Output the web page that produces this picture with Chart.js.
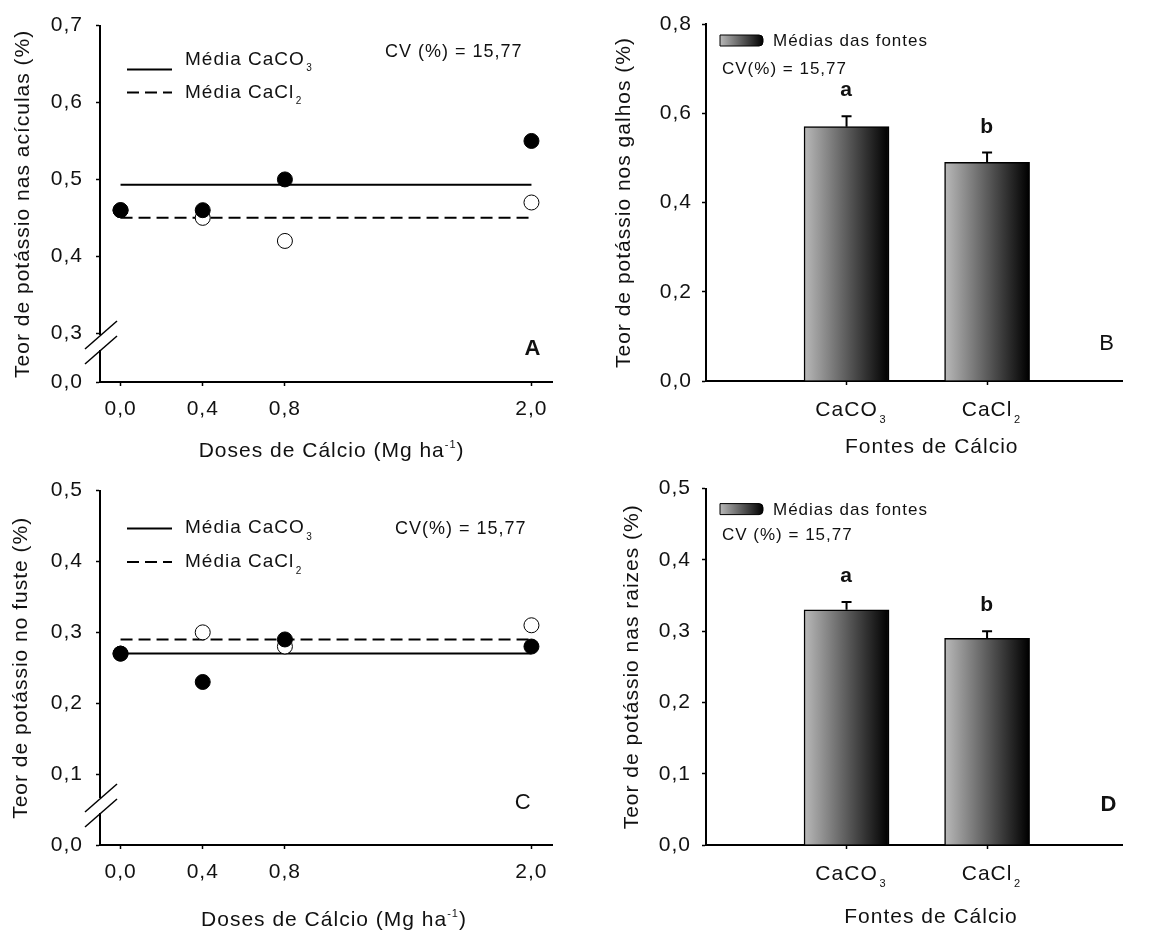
<!DOCTYPE html>
<html lang="pt">
<head>
<meta charset="utf-8">
<title>Teor de potássio</title>
<script src="https://cdn.jsdelivr.net/npm/chart.js@4.4.0/dist/chart.umd.min.js"></script>
<style>
  html, body { margin: 0; padding: 0; background: #fff; }
  #fig { position: relative; width: 1164px; height: 931px; overflow: hidden; }
  #fig canvas { position: absolute; }
</style>
</head>
<body>
<div id="fig">
  <canvas id="chartA" width="582" height="465" style="left:0;top:0"></canvas>
  <canvas id="chartB" width="582" height="465" style="left:582px;top:0"></canvas>
  <canvas id="chartC" width="582" height="466" style="left:0;top:465px"></canvas>
  <canvas id="chartD" width="582" height="466" style="left:582px;top:465px"></canvas>
</div>
<script>
// ---- dados ----
const doses = [0, 0.4, 0.8, 2.0];              // Mg ha-1
const cvTexto = '15,77';

// A: aciculas
const aciculasCaCO3 = [0.46, 0.46, 0.50, 0.55];
const aciculasCaCl2 = [0.46, 0.45, 0.42, 0.47];
const aciculasMediaCaCO3 = 0.493;
const aciculasMediaCaCl2 = 0.45;
const aciculasTicks = [0.3, 0.4, 0.5, 0.6, 0.7];

// C: fuste
const fusteCaCO3 = [0.27, 0.23, 0.29, 0.28];
const fusteCaCl2 = [0.27, 0.30, 0.28, 0.31];
const fusteMediaCaCO3 = 0.27;
const fusteMediaCaCl2 = 0.29;
const fusteTicks = [0, 0.1, 0.2, 0.3, 0.4, 0.5];

// B / D: medias das fontes
const fontes = [['CaCO', '3'], ['CaCl', '2']];
const fontesPos = [1, 2];
const galhosMedias = [0.57, 0.49];
const galhosErro = [0.023, 0.022];
const galhosLetras = ['a', 'b'];
const galhosTicks = [0, 0.2, 0.4, 0.6, 0.8];
const raizesMedias = [0.33, 0.29];
const raizesErro = [0.011, 0.010];
const raizesLetras = ['a', 'b'];
const raizesTicks = [0, 0.1, 0.2, 0.3, 0.4, 0.5];

// ---- estilo ----
const FONT = '"Liberation Sans", Arial, Helvetica, sans-serif';
const INK = '#111';
Chart.defaults.font.family = FONT;
Chart.defaults.color = INK;
Chart.defaults.animation = false;

const comma = v => Number(v).toFixed(1).replace('.', ',');

// espacamento entre letras, como no grafico original
Chart.register({
  id: 'spacing',
  beforeUpdate(c) { c.ctx.letterSpacing = '1px'; },
  beforeDraw(c) { c.ctx.letterSpacing = '1px'; }
});

// texto com subscrito/sobrescrito: parts = [[texto], [texto, 'sub'|'sup']]
function drawRich(ctx, parts, x, y, size, opt = {}) {
  const weight = opt.bold ? 'bold ' : '';
  const runs = parts.map(([t, kind]) => {
    const s = kind ? Math.round(size * 0.5) : size;
    ctx.font = `${weight}${s}px ${FONT}`;
    const w = ctx.measureText(t).width;
    const dy = kind === 'sub' ? size * 0.34 : kind === 'sup' ? -size * 0.4 : 0;
    const gap = kind === 'sub' ? size * 0.08 : 0;
    return { t, s, w, dy, gap };
  });
  let total = 0;
  runs.forEach(r => { total += r.w + r.gap; });
  let cx = x;
  if (opt.align === 'center') cx = x - total / 2;
  if (opt.align === 'first') cx = x - runs[0].w / 2;
  ctx.save();
  ctx.fillStyle = INK;
  ctx.textAlign = 'left';
  ctx.textBaseline = 'alphabetic';
  runs.forEach(r => {
    cx += r.gap;
    ctx.font = `${weight}${r.s}px ${FONT}`;
    ctx.fillText(r.t, cx, y + r.dy);
    cx += r.w;
  });
  ctx.restore();
}

function yScale({ min, max, ticks, title, titlePad, tickPad, width, label }) {
  return {
    type: 'linear', min, max,
    afterBuildTicks: s => { s.ticks = ticks.map(v => ({ value: v })); },
    afterFit: s => { s.width = width; },
    border: { display: true, color: '#000', width: 2 },
    grid: { display: true, drawOnChartArea: false, drawTicks: true, tickLength: 4, tickColor: '#000', tickWidth: 1.5 },
    ticks: { font: { size: 21 }, color: INK, padding: tickPad, callback: label || comma },
    title: { display: true, text: title, font: { size: 21 }, color: INK, padding: { top: titlePad, bottom: 0 } }
  };
}

function xScale({ min, max, ticks, height, label }) {
  return {
    type: 'linear', min, max, offset: false,
    afterBuildTicks: s => { s.ticks = ticks.map(v => ({ value: v })); },
    afterFit: s => { s.height = height; },
    border: { display: true, color: '#000', width: 2 },
    grid: { display: true, offset: false, drawOnChartArea: false, drawTicks: true, tickLength: 4, tickColor: '#000', tickWidth: 1.5 },
    ticks: { font: { size: 21 }, color: INK, padding: 11, maxRotation: 0, autoSkip: false, callback: label || comma }
  };
}

// quebra do eixo y (duas barras diagonais)
function drawBreak(ctx, area) {
  const x = area.left;
  const y1 = area.bottom - 47, y2 = area.bottom - 32;
  ctx.save();
  ctx.fillStyle = '#fff';
  ctx.fillRect(x - 3, y1, 6, y2 - y1);
  ctx.strokeStyle = '#000';
  ctx.lineWidth = 1.5;
  [y1, y2].forEach(y => {
    ctx.beginPath();
    ctx.moveTo(x - 15, y + 14);
    ctx.lineTo(x + 17, y - 14);
    ctx.stroke();
  });
  ctx.restore();
}

function drawLineLegend(ctx, area, rows) {
  ctx.save();
  ctx.strokeStyle = '#000';
  ctx.lineWidth = 2;
  rows.forEach(r => {
    ctx.setLineDash(r.dash || []);
    ctx.beginPath();
    ctx.moveTo(area.left + 27, area.top + r.lineY);
    ctx.lineTo(area.left + 72, area.top + r.lineY);
    ctx.stroke();
    drawRich(ctx, r.text, area.left + 85, area.top + r.textY, 19);
  });
  ctx.restore();
}

function drawText(ctx, text, x, y, size, bold, align) {
  ctx.save();
  ctx.font = `${bold ? 'bold ' : ''}${size}px ${FONT}`;
  ctx.fillStyle = INK;
  ctx.textAlign = align || 'left';
  ctx.textBaseline = 'alphabetic';
  ctx.fillText(text, x, y);
  ctx.restore();
}

function scatterChart(id, cfg) {
  const pts = vals => doses.map((x, i) => ({ x, y: vals[i] }));
  const flat = m => [{ x: doses[0], y: m }, { x: doses[doses.length - 1], y: m }];
  return new Chart(document.getElementById(id), {
    type: 'scatter',
    data: {
      datasets: [
        { label: 'CaCO3', data: pts(cfg.caco3), order: 0, pointRadius: 7.5, pointBackgroundColor: '#000', pointBorderColor: '#000', pointBorderWidth: 1, showLine: false },
        { label: 'CaCl2', data: pts(cfg.cacl2), order: 1, pointRadius: 7.5, pointBackgroundColor: '#fff', pointBorderColor: '#000', pointBorderWidth: 1, showLine: false },
        { label: 'Média CaCO3', data: flat(cfg.mediaCaCO3), order: 2, showLine: true, borderColor: '#000', borderWidth: 2, pointRadius: 0 },
        { label: 'Média CaCl2', data: flat(cfg.mediaCaCl2), order: 3, showLine: true, borderColor: '#000', borderWidth: 2, borderDash: [12, 6], pointRadius: 0 }
      ]
    },
    options: {
      responsive: false,
      layout: { autoPadding: false, padding: { left: 0, top: cfg.top, right: 30, bottom: 0 } },
      plugins: { legend: { display: false }, tooltip: { enabled: false } },
      scales: {
        x: xScale({ min: -0.1, max: 2.1, ticks: doses, height: cfg.xHeight }),
        y: yScale(cfg.y)
      }
    },
    plugins: [{
      id: 'decor',
      afterDraw(chart) {
        const { ctx, chartArea: a } = chart;
        drawBreak(ctx, a);
        drawLineLegend(ctx, a, cfg.legend);
        drawText(ctx, cfg.cv, a.left + cfg.cvX, a.top + cfg.cvY, 18);
        drawText(ctx, cfg.letter, a.right + cfg.letterX, a.bottom + cfg.letterY, 22, cfg.letterBold, 'center');
        drawRich(ctx, [['Doses de Cálcio (Mg ha'], ['-1', 'sup'], [')']],
          (a.left + a.right) / 2 + cfg.titleDx, a.bottom + cfg.titleY, 21, { align: 'center' });
      }
    }]
  });
}

function barChart(id, cfg) {
  const grad = c => {
    const { chart, raw } = c;
    const xs = chart.scales.x;
    if (!xs || !raw) return '#666';
    const px = xs.getPixelForValue(raw.x);
    if (!Number.isFinite(px)) return '#666';
    const g = chart.ctx.createLinearGradient(px - 42, 0, px + 42, 0);
    g.addColorStop(0, '#b8b8b8');
    g.addColorStop(1, '#000');
    return g;
  };
  return new Chart(document.getElementById(id), {
    type: 'bar',
    data: {
      datasets: [{
        label: 'Médias das fontes',
        data: fontesPos.map((x, i) => ({ x, y: cfg.medias[i] })),
        backgroundColor: grad,
        borderColor: '#000',
        borderWidth: 1.5,
        barThickness: 85
      }]
    },
    options: {
      responsive: false,
      layout: { autoPadding: false, padding: { left: 0, top: cfg.top, right: 42, bottom: 0 } },
      plugins: { legend: { display: false }, tooltip: { enabled: false } },
      scales: {
        x: xScale({ min: 0, max: 2.96, ticks: fontesPos, height: cfg.xHeight, label: () => '' }),
        y: yScale(cfg.y)
      }
    },
    plugins: [{
      id: 'decor',
      afterDatasetsDraw(chart) {
        const { ctx, scales: { x, y } } = chart;
        ctx.save();
        ctx.strokeStyle = '#000';
        ctx.lineWidth = 2;
        cfg.medias.forEach((m, i) => {
          const px = x.getPixelForValue(fontesPos[i]);
          const top = y.getPixelForValue(m + cfg.erro[i]);
          ctx.beginPath();
          ctx.moveTo(px, y.getPixelForValue(m));
          ctx.lineTo(px, top);
          ctx.moveTo(px - 5, top);
          ctx.lineTo(px + 5, top);
          ctx.stroke();
          drawText(ctx, cfg.letras[i], px, top - 20, 21, true, 'center');
        });
        ctx.restore();
      },
      afterDraw(chart) {
        const { ctx, chartArea: a, scales: { x } } = chart;
        // legenda
        const sx = a.left + 14, sy = a.top + cfg.swatchY, sw = 43, sh = 11;
        const g = ctx.createLinearGradient(sx, 0, sx + sw, 0);
        g.addColorStop(0, '#b8b8b8');
        g.addColorStop(1, '#000');
        ctx.save();
        ctx.fillStyle = g;
        ctx.strokeStyle = '#000';
        ctx.lineWidth = 1;
        ctx.beginPath();
        ctx.roundRect(sx, sy, sw, sh, [0, 4, 4, 0]);
        ctx.fill();
        ctx.stroke();
        ctx.restore();
        drawText(ctx, 'Médias das fontes', a.left + 67, a.top + cfg.legendY, 17);
        drawText(ctx, cfg.cv, a.left + 16, a.top + cfg.cvY, 17);
        drawText(ctx, cfg.letter, a.right + cfg.letterX, a.bottom + cfg.letterY, 22, cfg.letterBold, 'center');
        // rotulos das fontes
        fontes.forEach((f, i) => {
          drawRich(ctx, [[f[0]], [f[1], 'sub']], x.getPixelForValue(fontesPos[i]), a.bottom + 34.5, 21, { align: 'first' });
        });
        drawRich(ctx, [['Fontes de Cálcio']], (a.left + a.right) / 2 + cfg.titleDx, a.bottom + cfg.titleY, 21, { align: 'center' });
      }
    }]
  });
}

scatterChart('chartA', {
  caco3: aciculasCaCO3, cacl2: aciculasCaCl2,
  mediaCaCO3: aciculasMediaCaCO3, mediaCaCl2: aciculasMediaCaCl2,
  top: 24, xHeight: 83,
  y: {
    min: 0.2366, max: 0.7, ticks: [0.2366, ...aciculasTicks],
    title: 'Teor de potássio nas acículas (%)', titlePad: 11, tickPad: 13, width: 100,
    label: v => (v < 0.3 ? '0,0' : comma(v))
  },
  legend: [
    { lineY: 44, textY: 39, text: [['Média CaCO'], ['3', 'sub']] },
    { lineY: 67, textY: 72, dash: [12, 6], text: [['Média CaCl'], ['2', 'sub']] }
  ],
  cv: 'CV (%) = ' + cvTexto, cvX: 285, cvY: 31.4,
  letter: 'A', letterBold: true, letterX: -19, letterY: -27,
  titleDx: 5.6, titleY: 74.5
});

barChart('chartB', {
  medias: galhosMedias, erro: galhosErro, letras: galhosLetras,
  top: 24, xHeight: 84,
  y: { min: 0, max: 0.8, ticks: galhosTicks, title: 'Teor de potássio nos galhos (%)', titlePad: 30, tickPad: 10, width: 124 },
  swatchY: 11, legendY: 22.1,
  cv: 'CV(%) = ' + cvTexto, cvY: 49.6,
  letter: 'B', letterBold: false, letterX: -15, letterY: -30.6,
  titleDx: 17.7, titleY: 71.5
});

scatterChart('chartC', {
  caco3: fusteCaCO3, cacl2: fusteCaCl2,
  mediaCaCO3: fusteMediaCaCO3, mediaCaCl2: fusteMediaCaCl2,
  top: 22, xHeight: 86,
  y: { min: 0, max: 0.5, ticks: fusteTicks, title: 'Teor de potássio no fuste (%)', titlePad: 9, tickPad: 13, width: 100 },
  legend: [
    { lineY: 38, textY: 42.8, text: [['Média CaCO'], ['3', 'sub']] },
    { lineY: 71.3, textY: 76.5, dash: [12, 6], text: [['Média CaCl'], ['2', 'sub']] }
  ],
  cv: 'CV(%) = ' + cvTexto, cvX: 295, cvY: 43.4,
  letter: 'C', letterBold: false, letterX: -28.7, letterY: -36.1,
  titleDx: 8, titleY: 80.5
});

barChart('chartD', {
  medias: raizesMedias, erro: raizesErro, letras: raizesLetras,
  top: 21.7, xHeight: 86,
  y: { min: 0, max: 0.5, ticks: raizesTicks, title: 'Teor de potássio nas raizes (%)', titlePad: 38, tickPad: 11, width: 124 },
  swatchY: 15, legendY: 26.1,
  cv: 'CV (%) = ' + cvTexto, cvY: 51.1,
  letter: 'D', letterBold: true, letterX: -13, letterY: -33.8,
  titleDx: 17, titleY: 77.5
});
</script>
</body>
</html>
